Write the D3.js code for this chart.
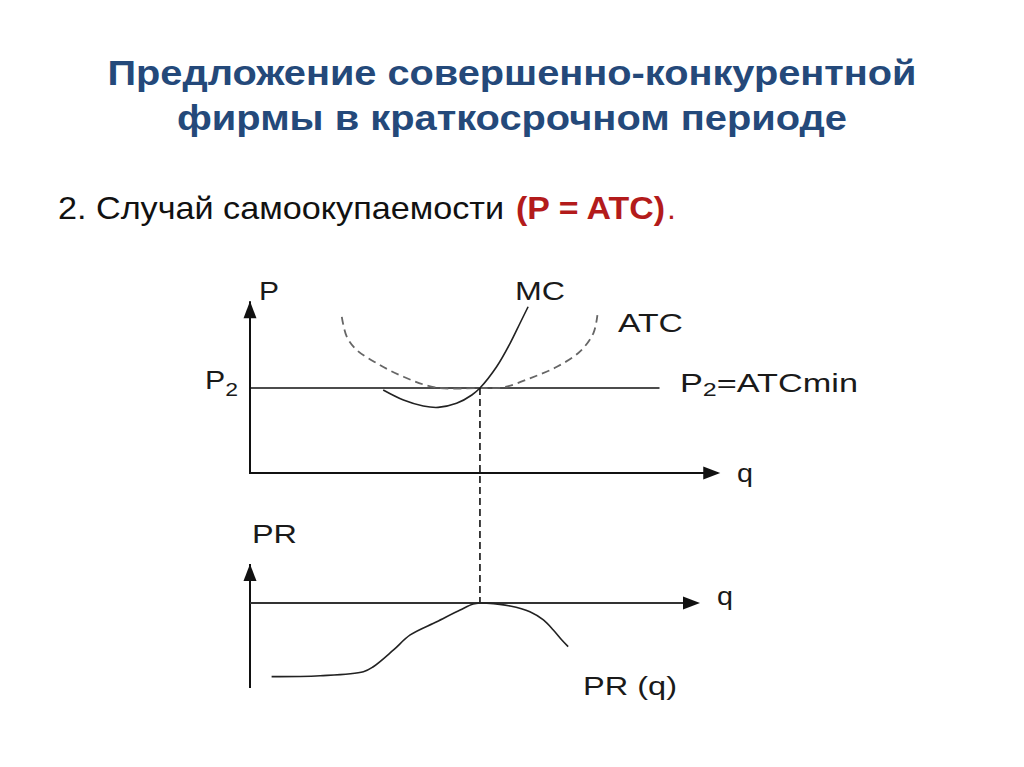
<!DOCTYPE html>
<html>
<head>
<meta charset="utf-8">
<script src="https://cdn.jsdelivr.net/npm/d3@7"></script>
<style>
  html, body { margin: 0; padding: 0; background: #fff; }
  svg { display: block; }
</style>
</head>
<body>
<script>
var W = 1024, H = 767

var titleLines = ['Предложение совершенно-конкурентной', 'фирмы в краткосрочном периоде']
var subtitle = '2. Случай самоокупаемости'
var subtitleRed = '(P = ATC)'

// top panel: ATC (dashed) and MC, q vs P
var atcQ = [20.4, 21.5, 23.7, 28.2, 34.1, 41.1, 51.1, 56.3, 62.2, 68.2, 73.3, 76.3, 77.2]
var atcP = [9.19, 8.02, 7.24, 6.45, 5.66, 5.04, 5.0, 5.04, 5.57, 6.25, 7.14, 8.22, 9.29]
var mcQ = [29.6, 34.1, 38.5, 41.8, 45.9, 49.3, 51.1, 54.8, 57.8, 60.0, 61.8]
var mcP = [4.88, 4.29, 3.94, 3.86, 4.10, 4.59, 5.0, 6.25, 7.63, 8.81, 9.78]
var p2 = 5
var qStar = 51.1

// bottom panel: PR(q)
var prQ = [4.8, 15.6, 25.2, 27.4, 31.9, 35.6, 41.5, 46.7, 49.6, 51.1, 52.6, 57.8, 62.2, 65.2, 67.4, 69.3, 70.7]
var prV = [-4.91, -4.85, -4.58, -4.25, -3.13, -2.13, -1.25, -0.47, -0.07, 0, -0.01, -0.2, -0.58, -1.13, -1.8, -2.47, -2.91]

var x = d3.scaleLinear().domain([0, 100]).range([250, 700])
var yTop = d3.scaleLinear().domain([0, 10]).range([473, 303])
var yLow = d3.scaleLinear().domain([-5, 2.5]).range([678, 565.5])

var svg = d3.select('body')
  .append('svg')
  .attr('width', W)
  .attr('height', H)

var font = '"Liberation Sans", Arial, sans-serif'

// heading
svg.selectAll('.title')
  .data(titleLines)
  .enter()
  .append('text')
  .classed('title', true)
  .attr('x', 512)
  .attr('y', function(d, i) { return 85 + i * 45 })
  .attr('text-anchor', 'middle')
  .attr('textLength', function(d, i) { return i ? 670 : 809 })
  .attr('lengthAdjust', 'spacingAndGlyphs')
  .style('font-family', font)
  .style('font-weight', 'bold')
  .style('font-size', '35px')
  .style('fill', '#24497a')
  .text(function(d) { return d })

svg.append('text')
  .attr('x', 58)
  .attr('y', 219)
  .attr('textLength', 446)
  .attr('lengthAdjust', 'spacingAndGlyphs')
  .style('font-family', font)
  .style('font-size', '32px')
  .style('fill', '#111')
  .text(subtitle)

svg.append('text')
  .attr('x', 516)
  .attr('y', 219)
  .attr('textLength', 149)
  .attr('lengthAdjust', 'spacingAndGlyphs')
  .style('font-family', font)
  .style('font-weight', 'bold')
  .style('font-size', '32px')
  .style('fill', '#b31b1b')
  .text(subtitleRed)

svg.append('text')
  .attr('x', 667)
  .attr('y', 219)
  .style('font-family', font)
  .style('font-size', '32px')
  .style('fill', '#b31b1b')
  .text('.')

function arrow(g, x0, y0, dir) {
  // filled triangle with tip at x0,y0
  var L = 17, w = 6.5, pts
  if (dir === 'up') pts = [[x0, y0], [x0 - w, y0 + L], [x0 + w, y0 + L]]
  else pts = [[x0, y0], [x0 - L, y0 - w], [x0 - L, y0 + w]]
  g.append('path')
    .attr('d', 'M' + pts.join('L') + 'Z')
    .style('fill', '#111')
}

var line = d3.line().curve(d3.curveCatmullRom.alpha(0.5))

var gTop = svg.append('g')

// dashed guide from the ATC minimum down to the PR axis
svg.append('line')
  .attr('x1', x(qStar)).attr('x2', x(qStar))
  .attr('y1', yTop(p2)).attr('y2', yLow(0))
  .style('stroke', '#111')
  .style('stroke-width', '1.6px')
  .style('stroke-dasharray', '7,4')

gTop.append('line')
  .attr('x1', x(0)).attr('x2', x(0))
  .attr('y1', yTop(0) + 1).attr('y2', yTop(10.1))
  .style('stroke', '#111').style('stroke-width', '2px')
arrow(gTop, x(0), yTop(10.1), 'up')

gTop.append('line')
  .attr('x1', x(0) - 1).attr('x2', x(104))
  .attr('y1', yTop(0)).attr('y2', yTop(0))
  .style('stroke', '#111').style('stroke-width', '2px')
arrow(gTop, x(104.5), yTop(0), 'right')

gTop.append('line')
  .attr('x1', x(0)).attr('x2', x(91))
  .attr('y1', yTop(p2)).attr('y2', yTop(p2))
  .style('stroke', '#111').style('stroke-width', '1.5px')

gTop.append('path')
  .datum(atcQ.map(function(q, i) { return [x(q), yTop(atcP[i])] }))
  .attr('d', line)
  .style('fill', 'none')
  .style('stroke', '#666')
  .style('stroke-width', '1.8px')
  .style('stroke-dasharray', '8,5')

gTop.append('path')
  .datum(mcQ.map(function(q, i) { return [x(q), yTop(mcP[i])] }))
  .attr('d', line)
  .style('fill', 'none')
  .style('stroke', '#222')
  .style('stroke-width', '1.6px')

var gLow = svg.append('g')

gLow.append('line')
  .attr('x1', x(0)).attr('x2', x(0))
  .attr('y1', yLow(-5.67)).attr('y2', yLow(2.6))
  .style('stroke', '#111').style('stroke-width', '2px')
arrow(gLow, x(0), yLow(2.6), 'up')

gLow.append('line')
  .attr('x1', x(0)).attr('x2', x(99))
  .attr('y1', yLow(0)).attr('y2', yLow(0))
  .style('stroke', '#333').style('stroke-width', '2px')
arrow(gLow, x(100), yLow(0), 'right')

gLow.append('path')
  .datum(prQ.map(function(q, i) { return [x(q), yLow(prV[i])] }))
  .attr('d', line)
  .style('fill', 'none')
  .style('stroke', '#222')
  .style('stroke-width', '1.6px')

// labels (the source stretches them a bit wider than plain Arial)
var labels = [
  {t: 'P', x: 259, y: 300, w: 20},
  {t: 'MC', x: 515, y: 300, w: 50},
  {t: 'ATC', x: 618, y: 332, w: 65},
  {t: 'q', x: 737, y: 482, w: 16},
  {t: 'PR', x: 252, y: 543, w: 45},
  {t: 'q', x: 717, y: 605, w: 16},
  {t: 'PR (q)', x: 583, y: 695, w: 94}
]

svg.selectAll('.lbl')
  .data(labels)
  .enter()
  .append('text')
  .classed('lbl', true)
  .attr('x', function(d) { return d.x })
  .attr('y', function(d) { return d.y })
  .attr('textLength', function(d) { return d.w })
  .attr('lengthAdjust', 'spacingAndGlyphs')
  .style('font-family', font)
  .style('font-size', '26px')
  .style('fill', '#1a1a1a')
  .text(function(d) { return d.t })

var p2lbl = svg.append('text')
  .attr('x', 205)
  .attr('y', 389)
  .attr('textLength', 33)
  .attr('lengthAdjust', 'spacingAndGlyphs')
  .style('font-family', font)
  .style('font-size', '25px')
  .style('fill', '#1a1a1a')
p2lbl.append('tspan').text('P')
p2lbl.append('tspan').attr('dy', 7).style('font-size', '19px').text('2')

var p2atc = svg.append('text')
  .attr('x', 680)
  .attr('y', 392)
  .attr('textLength', 178)
  .attr('lengthAdjust', 'spacingAndGlyphs')
  .style('font-family', font)
  .style('font-size', '26px')
  .style('fill', '#1a1a1a')
p2atc.append('tspan').text('P')
p2atc.append('tspan').attr('dy', 4).style('font-size', '19px').text('2')
p2atc.append('tspan').attr('dy', -4).text('=ATCmin')
</script>
</body>
</html>
